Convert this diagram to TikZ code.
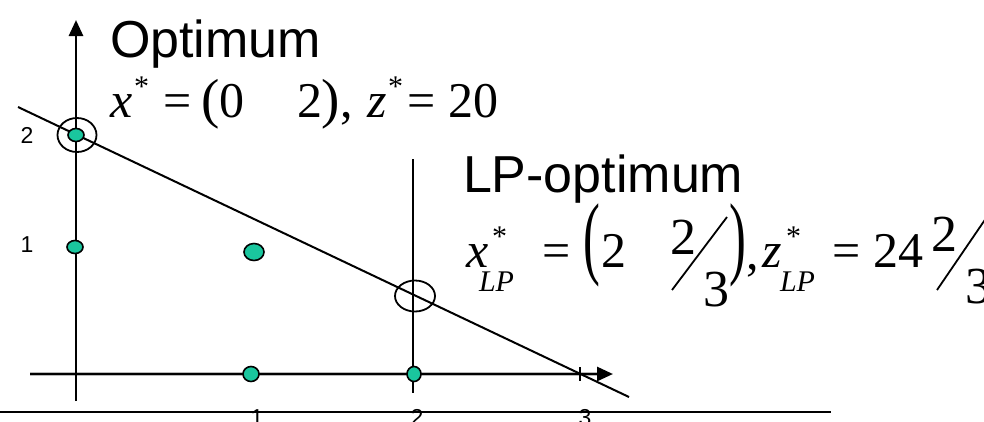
\documentclass[tikz,border=0pt]{standalone}
\usepackage{fontspec}
\setmainfont{Liberation Serif}
\newfontfamily\arialf{Liberation Sans}
\usetikzlibrary{arrows.meta,shapes.geometric}
\definecolor{dotgreen}{RGB}{26,198,158}
\begin{document}
\begin{tikzpicture}[x=1pt,y=-1pt,
  every node/.style={inner sep=0pt, outer sep=0pt},
  sanstitle/.style={font=\arialf\fontsize{52}{52}\selectfont, anchor=base west},
  axlabel/.style={font=\arialf\fontsize{23}{23}\selectfont, anchor=base},
  mi/.style={font=\fontsize{50}{50}\selectfont\itshape, anchor=base west},
  mr/.style={font=\fontsize{50}{50}\selectfont, anchor=base west},
  fracdig/.style={font=\fontsize{52}{52}\selectfont, anchor=base west},
  staridx/.style={font=\fontsize{30}{30}\selectfont, anchor=base west},
  subidx/.style={font=\fontsize{30}{30}\selectfont\itshape, anchor=base west},
  paren/.style={font=\fontsize{55}{55}\selectfont, anchor=base west},
  bigparen/.style={font=\fontsize{92}{92}\selectfont, anchor=base west},
  dot/.style={ellipse, draw=black, line width=1.6pt, fill=dotgreen},
  ring/.style={ellipse, draw=black, line width=1.8pt},
  axisline/.style={line width=2.8pt, -{Triangle[length=16pt,width=14pt]}},
]
\useasboundingbox (0,0) rectangle (984,421);
\clip (0,0) rectangle (984,421);

% coordinates
\coordinate (ybot) at (76,401);
\coordinate (ytop) at (76,20);
\coordinate (xl) at (30,374);
\coordinate (xr) at (613,374);
\coordinate (c1) at (18,107);
\coordinate (c2) at (629,397);
\coordinate (v1) at (413,159);
\coordinate (v2) at (413,393);
\coordinate (t1) at (580,367);
\coordinate (t2) at (580,381);
\coordinate (b1) at (0,412);
\coordinate (b2) at (831,412);

% lines
\draw[line width=2pt] (b1) -- (b2);
\draw[line width=4.5pt, gray!55] (xl) -- ([xshift=-10pt]xr);
\draw[axisline] (xl) -- (xr);
\draw[axisline] (ybot) -- (ytop);
\draw[line width=1.6pt] (v1) -- (v2);
\draw[line width=1.5pt] (t1) -- (t2);
\draw[line width=2pt] (c1) -- (c2);

% circles
\node[ring, minimum width=39pt, minimum height=34pt] (opt) at (77,135) {};
\node[ring, minimum width=40pt, minimum height=31pt] (lpopt) at (415,296) {};

% integer points
\node[dot, minimum width=16pt, minimum height=13pt] (p02) at (76,135) {};
\node[dot, minimum width=16pt, minimum height=13pt] (p01) at (75,247) {};
\node[dot, minimum width=20pt, minimum height=17pt] (p11) at (254,252) {};
\node[dot, minimum width=16pt, minimum height=15pt] (p10) at (251,374) {};
\node[dot, minimum width=14pt, minimum height=15pt] (p20) at (414,374) {};

% axis labels
\node[axlabel] (ly2) at (27,143) {2};
\node[axlabel] (ly1) at (27,252) {1};
\node[axlabel] (lx1) at (257,425) {1};
\node[axlabel] (lx2) at (417,425) {2};
\node[axlabel] (lx3) at (585,425) {3};

% Optimum
\node[sanstitle] (optlabel) at (110,57) {Optimum};
\node[mi] (ax) at (110,117) {x};
\node[staridx] (axs) at (134,96) {*};
\node[mr] (aeq) at (163,117) {=};
\node[paren] (alp) at (201,117) {(};
\node[mr] (a0) at (219,117) {0};
\node[mr] (a2) at (297,117) {2};
\node[paren] (arp) at (321,117) {)};
\node[mr] (acom) at (340,117) {,};
\node[mi] (az) at (367,117) {z};
\node[staridx] (azs) at (388,96) {*};
\node[mr] (aeq2) at (407,117) {=};
\node[mr] (a20) at (448,117) {20};

% LP-optimum
\node[sanstitle] (lplabel) at (463,192) {LP-optimum};
\node[mi] (bx) at (466,267) {x};
\node[staridx] (bxs) at (492,246) {*};
\node[subidx] (bxsub) at (479,291) {LP};
\node[mr] (beq) at (542,267) {=};
\node[bigparen] (blp) at (583,267) {\scalebox{0.55}[1]{(}};
\node[mr] (b2) at (601,267) {2};
\node[fracdig] (bn) at (670,254) {2};
\coordinate (s1a) at (672,290);
\coordinate (s1b) at (727,217);
\draw[line width=1.8pt] (s1a) -- (s1b);
\node[fracdig] (bd) at (703,306) {3};
\node[bigparen] (brp) at (729,267) {\scalebox{0.55}[1]{)}};
\node[mr] (bcom) at (746,269) {,};
\node[mi] (bz) at (762,267) {z};
\node[staridx] (bzs) at (786,246) {*};
\node[subidx] (bzsub) at (780,291) {LP};
\node[mr] (beq2) at (832,267) {=};
\node[mr] (b24) at (873,267) {24};
\node[fracdig] (cn) at (931,251) {2};
\coordinate (s2a) at (937,290);
\coordinate (s2b) at (995,205);
\draw[line width=1.8pt] (s2a) -- (s2b);
\node[fracdig] (cd) at (965,303) {3};
\end{tikzpicture}
\end{document}
